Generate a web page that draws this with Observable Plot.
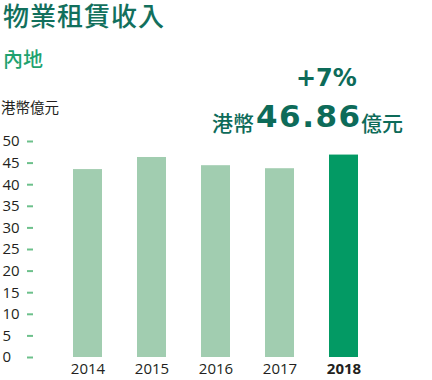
<!DOCTYPE html>
<html><head><meta charset="utf-8">
<script src="https://cdn.jsdelivr.net/npm/d3@7"></script>
<script src="https://cdn.jsdelivr.net/npm/@observablehq/plot@0.6"></script>
<style>
body{margin:0;background:#fff;}
#wrap{position:relative;width:432px;height:380px;font-family:"Noto Sans CJK TC",sans-serif;overflow:hidden;}
#chart{position:absolute;left:0;top:0;}
.t{position:absolute;white-space:nowrap;line-height:1.1;}
#title{left:3px;top:1px;line-height:1;padding-top:1px;font-size:26px;letter-spacing:1px;font-weight:500;color:#12705d;}
#sub{left:3px;top:48px;font-size:20px;font-weight:500;color:#1ea26f;}
#unit{left:1px;top:99px;font-size:14.5px;color:#231f20;}
#chg{left:296px;top:65px;font-size:24px;font-weight:bold;font-family:"DejaVu Sans",sans-serif;color:#0d6b59;}
#cur{left:212px;top:111px;font-size:21px;font-weight:500;color:#0d6b59;}
#num{left:256px;top:99px;font-size:31px;letter-spacing:1.5px;font-weight:bold;font-family:"DejaVu Sans",sans-serif;color:#0d6b59;}
#unit2{left:361px;top:111px;font-size:21px;font-weight:500;color:#0d6b59;}
</style></head><body>
<div id="wrap">
<div id="chart"></div>
<div class="t" id="title"></div>
<div class="t" id="sub"></div>
<div class="t" id="unit"></div>
<div class="t" id="chg"></div>
<div class="t" id="cur"></div>
<div class="t" id="num"></div>
<div class="t" id="unit2"></div>
</div>
<script>
const years = ["2014", "2015", "2016", "2017", "2018"];
const values = [43.5, 46.3, 44.4, 43.7, 46.86];
const yTicks = [0, 5, 10, 15, 20, 25, 30, 35, 40, 45, 50];
const highlightYear = "2018";
const titleText = "物業租賃收入";
const subtitleText = "內地";
const unitText = "港幣億元";
const changeText = "+7%";
const currencyText = "港幣";
const highlightValueText = "46.86";
const highlightUnitText = "億元";

document.getElementById("title").textContent = titleText;
document.getElementById("sub").textContent = subtitleText;
document.getElementById("unit").textContent = unitText;
document.getElementById("chg").textContent = changeText;
document.getElementById("cur").textContent = currencyText;
document.getElementById("num").textContent = highlightValueText;
document.getElementById("unit2").textContent = highlightUnitText;

const data = years.map((y, i) => ({year: y, value: values[i]}));
const light = "#a1cdb0", dark = "#039a64";
const digitFont = "Open Sans, sans-serif";

const chart = Plot.plot({
  width: 432,
  height: 380,
  marginTop: 141,
  marginBottom: 23,
  marginLeft: 53,
  marginRight: 55,
  style: {fontFamily: digitFont, background: "transparent"},
  x: {type: "band", domain: years, paddingInner: 0.55, paddingOuter: 0.275, axis: null, label: null},
  y: {domain: [0, 50], axis: null, label: null},
  marks: [
    Plot.barY(data, {x: "year", y: "value", fill: d => d.year === highlightYear ? dark : light}),
    Plot.axisY({ticks: yTicks, tickSize: 6, tickFormat: () => "", label: null, dx: -20, stroke: "#6cc08b", strokeWidth: 2, fill: "none"}),
    Plot.text(yTicks, {y: d => d, text: d => String(d), frameAnchor: "left", textAnchor: "start", dx: -51, fontSize: 15, fill: "#231f20"}),
    Plot.text(years.filter(y => y !== highlightYear), {x: d => d, text: d => d, frameAnchor: "bottom", lineAnchor: "top", dy: 6, fontSize: 15, fill: "#231f20"}),
    Plot.text(years.filter(y => y === highlightYear), {x: d => d, text: d => d, frameAnchor: "bottom", lineAnchor: "top", dy: 6, fontSize: 15, fontWeight: "bold", fill: "#231f20"})
  ]
});
document.getElementById("chart").appendChild(chart);
</script>
</body></html>
